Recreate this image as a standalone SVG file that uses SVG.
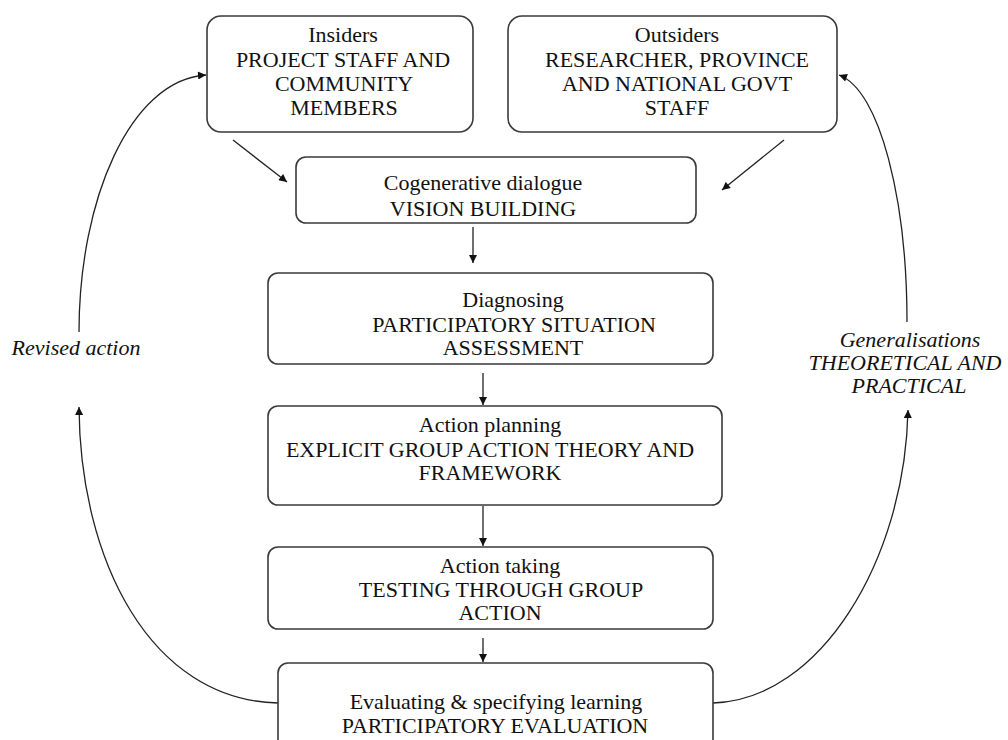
<svg xmlns="http://www.w3.org/2000/svg" width="1008" height="740" viewBox="0 0 1008 740">
  <style>
    .box { fill: #ffffff; stroke: #3a3a3a; stroke-width: 1.6; }
    .lbl { font-family: "Liberation Serif", "Times New Roman", serif; font-size: 22px; fill: #111; text-anchor: middle; }
    .ital { font-family: "Liberation Serif", "Times New Roman", serif; font-style: italic; font-size: 22px; fill: #111; text-anchor: middle; }
    .link { fill: none; stroke: #222; stroke-width: 1.3; marker-end: url(#arrow); }
  </style>
  <defs>
    <marker id="arrow" viewBox="0 0 10 10" refX="10" refY="5" markerUnits="userSpaceOnUse" markerWidth="9" markerHeight="8" orient="auto">
      <path d="M0,0 L10,5 L0,10 z" fill="#111"/>
    </marker>
  </defs>
  <rect width="1008" height="740" fill="#ffffff"/>

  <g id="connectors">
    <line class="link" x1="233" y1="140" x2="287" y2="182"/>
    <line class="link" x1="784" y1="140" x2="722" y2="190"/>
    <line class="link" x1="473" y1="227" x2="473" y2="263"/>
    <line class="link" x1="483" y1="373" x2="483" y2="405"/>
    <line class="link" x1="483" y1="506" x2="483" y2="546"/>
    <line class="link" x1="483" y1="638" x2="483" y2="662"/>
    <!-- feedback loop on the left -->
    <path class="link" d="M278,703 C150,700 80,560 79,407"/>
    <path class="link" d="M79,332 C79,200 130,80 206,75"/>
    <!-- feedback loop on the right -->
    <path class="link" d="M713,703 C820,700 905,560 908,410"/>
    <path class="link" d="M907,322 C907,200 880,90 839,75"/>
  </g>

  <g id="insiders">
    <rect class="box" x="207" y="16" width="266" height="116" rx="14"/>
    <text class="lbl" x="343" y="42">Insiders</text>
    <text class="lbl" x="343" y="67">PROJECT STAFF AND</text>
    <text class="lbl" x="344" y="91">COMMUNITY</text>
    <text class="lbl" x="344" y="115">MEMBERS</text>
  </g>

  <g id="outsiders">
    <rect class="box" x="508" y="16" width="329" height="116" rx="14"/>
    <text class="lbl" x="677" y="42">Outsiders</text>
    <text class="lbl" x="677" y="67">RESEARCHER, PROVINCE</text>
    <text class="lbl" x="677" y="91">AND NATIONAL GOVT</text>
    <text class="lbl" x="677" y="115">STAFF</text>
  </g>

  <g id="cogenerative">
    <rect class="box" x="296" y="157" width="400" height="66" rx="10"/>
    <text class="lbl" x="483" y="190">Cogenerative dialogue</text>
    <text class="lbl" x="483" y="216">VISION BUILDING</text>
  </g>

  <g id="diagnosing">
    <rect class="box" x="268" y="273" width="445" height="91" rx="10"/>
    <text class="lbl" x="513" y="307">Diagnosing</text>
    <text class="lbl" x="514" y="332">PARTICIPATORY SITUATION</text>
    <text class="lbl" x="513" y="355">ASSESSMENT</text>
  </g>

  <g id="action-planning">
    <rect class="box" x="268" y="406" width="454" height="99" rx="10"/>
    <text class="lbl" x="490" y="432">Action planning</text>
    <text class="lbl" x="490" y="457">EXPLICIT GROUP ACTION THEORY AND</text>
    <text class="lbl" x="490" y="480">FRAMEWORK</text>
  </g>

  <g id="action-taking">
    <rect class="box" x="268" y="547" width="445" height="82" rx="10"/>
    <text class="lbl" x="500" y="573">Action taking</text>
    <text class="lbl" x="501" y="597">TESTING THROUGH GROUP</text>
    <text class="lbl" x="500" y="620">ACTION</text>
  </g>

  <g id="evaluating">
    <rect class="box" x="278" y="663" width="435" height="90" rx="10"/>
    <text class="lbl" x="496" y="709">Evaluating &amp; specifying learning</text>
    <text class="lbl" x="495" y="733">PARTICIPATORY EVALUATION</text>
  </g>

  <g id="revised-action">
    <text class="ital" x="76" y="355">Revised action</text>
  </g>

  <g id="generalisations">
    <text class="ital" x="910" y="347">Generalisations</text>
    <text class="ital" x="905" y="370">THEORETICAL AND</text>
    <text class="ital" x="909" y="393">PRACTICAL</text>
  </g>
</svg>
